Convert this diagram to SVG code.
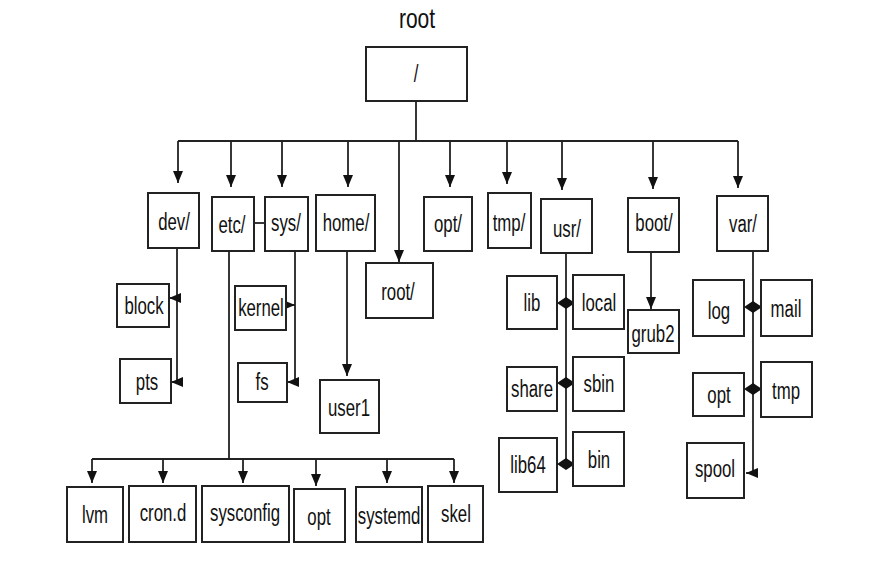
<svg xmlns="http://www.w3.org/2000/svg" width="873" height="561" viewBox="0 0 873 561">
<style>
.b{fill:#fff;stroke:#222;stroke-width:2}
.t{font-family:"Liberation Sans",Arial,sans-serif;font-size:23px;fill:#111;text-anchor:middle}
.c{fill:none;stroke:#222;stroke-width:1.8}
.d{fill:#111}
</style>
<defs>
<marker id="a" markerUnits="userSpaceOnUse" markerWidth="13" markerHeight="10" refX="12" refY="5" orient="auto"><path d="M0,0 L12,5 L0,10 Z" fill="#111"/></marker>
</defs>
<rect width="873" height="561" fill="#fff"/>
<text class="t" style="font-size:28px" transform="translate(417,28) scale(0.75,1)">root</text>
<g id="connectors">
<path class="c" d="M416,101 V141 M178,141 H738"/>
<path class="c" marker-end="url(#a)" d="M178,141 V183"/>
<path class="c" marker-end="url(#a)" d="M231,141 V187"/>
<path class="c" marker-end="url(#a)" d="M282,141 V187"/>
<path class="c" marker-end="url(#a)" d="M348,141 V187"/>
<path class="c" marker-end="url(#a)" d="M399,141 V262"/>
<path class="c" marker-end="url(#a)" d="M450,141 V187"/>
<path class="c" marker-end="url(#a)" d="M507,141 V184"/>
<path class="c" marker-end="url(#a)" d="M562,141 V190"/>
<path class="c" marker-end="url(#a)" d="M653,141 V189"/>
<path class="c" marker-end="url(#a)" d="M738,141 V188"/>
<path class="c" d="M177,248 V383"/>
<path class="c" marker-end="url(#a)" d="M177,298 H169"/>
<path class="c" marker-end="url(#a)" d="M177,382 H171"/>
<path class="c" d="M254,223 H265"/>
<path class="c" d="M295,251 V383"/>
<path class="c" marker-end="url(#a)" d="M285,305 H295"/>
<path class="c" marker-end="url(#a)" d="M295,382 H287"/>
<path class="c" marker-end="url(#a)" d="M347,251 V376"/>
<path class="c" d="M229,251 V459 M92,459 H454"/>
<path class="c" marker-end="url(#a)" d="M92,459 V483"/>
<path class="c" marker-end="url(#a)" d="M163,459 V483"/>
<path class="c" marker-end="url(#a)" d="M243,459 V483"/>
<path class="c" marker-end="url(#a)" d="M316,459 V486"/>
<path class="c" marker-end="url(#a)" d="M387,459 V483"/>
<path class="c" marker-end="url(#a)" d="M454,459 V483"/>
<path class="c" d="M566,253 V464"/>
<path class="d" d="M557,303 L566,297 L575,303 L566,309 Z M557,383 L566,377 L575,383 L566,389 Z M557,464 L566,458 L575,464 L566,470 Z"/>
<path class="c" marker-end="url(#a)" d="M651,252 V309"/>
<path class="c" d="M753,251 V473"/>
<path class="d" d="M744,307 L753,301 L762,307 L753,313 Z M744,389 L753,383 L762,389 L753,395 Z"/>
<path class="c" marker-end="url(#a)" d="M753,473 H746"/>
</g>
<g id="n-slash"><rect class="b" x="366" y="47" width="101" height="54"/><text class="t" transform="translate(416,82) scale(0.73,1)">/</text></g>
<g id="n-dev"><rect class="b" x="148" y="193" width="51" height="55"/><text class="t" transform="translate(174,230) scale(0.73,1)">dev/</text></g>
<g id="n-etc"><rect class="b" x="212" y="197" width="42" height="54"/><text class="t" transform="translate(232,233) scale(0.73,1)">etc/</text></g>
<g id="n-sys"><rect class="b" x="265" y="197" width="43" height="54"/><text class="t" transform="translate(286,231) scale(0.73,1)">sys/</text></g>
<g id="n-home"><rect class="b" x="316" y="195" width="59" height="56"/><text class="t" transform="translate(346,231) scale(0.73,1)">home/</text></g>
<g id="n-rootdir"><rect class="b" x="366" y="263" width="67" height="55"/><text class="t" transform="translate(398,300) scale(0.73,1)">root/</text></g>
<g id="n-opt"><rect class="b" x="424" y="197" width="48" height="54"/><text class="t" transform="translate(448,232) scale(0.73,1)">opt/</text></g>
<g id="n-tmp"><rect class="b" x="488" y="193" width="43" height="55"/><text class="t" transform="translate(509,231) scale(0.73,1)">tmp/</text></g>
<g id="n-usr"><rect class="b" x="541" y="199" width="51" height="54"/><text class="t" transform="translate(567,237) scale(0.73,1)">usr/</text></g>
<g id="n-boot"><rect class="b" x="628" y="198" width="51" height="54"/><text class="t" transform="translate(654,231) scale(0.73,1)">boot/</text></g>
<g id="n-var"><rect class="b" x="717" y="196" width="51" height="55"/><text class="t" transform="translate(743,232) scale(0.73,1)">var/</text></g>
<g id="n-block"><rect class="b" x="117" y="284" width="52" height="43"/><text class="t" transform="translate(144,314) scale(0.73,1)">block</text></g>
<g id="n-pts"><rect class="b" x="120" y="359" width="51" height="44"/><text class="t" transform="translate(147,390) scale(0.73,1)">pts</text></g>
<g id="n-kernel"><rect class="b" x="235" y="286" width="51" height="44"/><text class="t" transform="translate(261,316) scale(0.73,1)">kernel</text></g>
<g id="n-fs"><rect class="b" x="238" y="363" width="49" height="39"/><text class="t" transform="translate(262,390) scale(0.73,1)">fs</text></g>
<g id="n-user1"><rect class="b" x="320" y="380" width="59" height="53"/><text class="t" transform="translate(349,416) scale(0.73,1)">user1</text></g>
<g id="n-lvm"><rect class="b" x="67" y="487" width="56" height="55"/><text class="t" transform="translate(95,523) scale(0.73,1)">lvm</text></g>
<g id="n-crond"><rect class="b" x="129" y="486" width="67" height="56"/><text class="t" transform="translate(163,521) scale(0.73,1)">cron.d</text></g>
<g id="n-sysconfig"><rect class="b" x="202" y="486" width="87" height="56"/><text class="t" transform="translate(245,521) scale(0.73,1)">sysconfig</text></g>
<g id="n-etcopt"><rect class="b" x="294" y="489" width="51" height="53"/><text class="t" transform="translate(319,525) scale(0.73,1)">opt</text></g>
<g id="n-systemd"><rect class="b" x="356" y="487" width="66" height="55"/><text class="t" transform="translate(389,524) scale(0.73,1)">systemd</text></g>
<g id="n-skel"><rect class="b" x="428" y="486" width="55" height="56"/><text class="t" transform="translate(456,522) scale(0.73,1)">skel</text></g>
<g id="n-lib"><rect class="b" x="507" y="276" width="50" height="53"/><text class="t" transform="translate(532,311) scale(0.73,1)">lib</text></g>
<g id="n-local"><rect class="b" x="573" y="275" width="51" height="54"/><text class="t" transform="translate(599,311) scale(0.73,1)">local</text></g>
<g id="n-share"><rect class="b" x="507" y="367" width="50" height="44"/><text class="t" transform="translate(532,397) scale(0.73,1)">share</text></g>
<g id="n-sbin"><rect class="b" x="573" y="357" width="51" height="54"/><text class="t" transform="translate(599,392) scale(0.73,1)">sbin</text></g>
<g id="n-lib64"><rect class="b" x="499" y="438" width="58" height="54"/><text class="t" transform="translate(528,473) scale(0.73,1)">lib64</text></g>
<g id="n-bin"><rect class="b" x="573" y="432" width="51" height="54"/><text class="t" transform="translate(599,468) scale(0.73,1)">bin</text></g>
<g id="n-grub2"><rect class="b" x="628" y="310" width="51" height="43"/><text class="t" transform="translate(653,342) scale(0.73,1)">grub2</text></g>
<g id="n-log"><rect class="b" x="693" y="280" width="51" height="56"/><text class="t" transform="translate(719,319) scale(0.73,1)">log</text></g>
<g id="n-mail"><rect class="b" x="761" y="280" width="51" height="56"/><text class="t" transform="translate(786,317) scale(0.73,1)">mail</text></g>
<g id="n-varopt"><rect class="b" x="693" y="373" width="51" height="43"/><text class="t" transform="translate(719,403) scale(0.73,1)">opt</text></g>
<g id="n-vartmp"><rect class="b" x="761" y="362" width="51" height="55"/><text class="t" transform="translate(786,399) scale(0.73,1)">tmp</text></g>
<g id="n-spool"><rect class="b" x="687" y="443" width="57" height="55"/><text class="t" transform="translate(715,477) scale(0.73,1)">spool</text></g>
</svg>
